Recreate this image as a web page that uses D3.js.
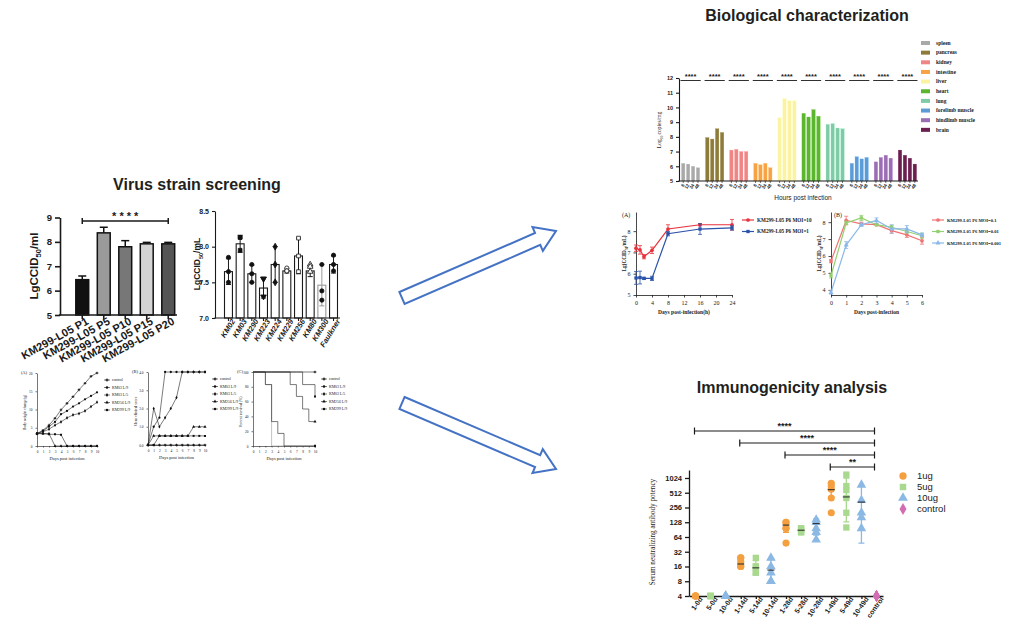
<!DOCTYPE html>
<html>
<head>
<meta charset="utf-8">
<script src="https://cdn.jsdelivr.net/npm/d3@7"></script>
<style>
  body { margin: 0; background: #fff; }
</style>
</head>
<body>
<svg id="fig" width="1009" height="643"></svg>
<script>
// ---------- data ----------
// virus strain screening: passages
const passages = ['KM299-L05 P1', 'KM299-L05 P5', 'KM299-L05 P10', 'KM299-L05 P15', 'KM299-L05 P20'];
const passageTiter = [6.45, 8.37, 7.8, 7.92, 7.92];
const passageErr = [0.15, 0.23, 0.25, 0.06, 0.06];
const passageFill = ['#111', '#9a9a9a', '#777', '#d4d4d4', '#555'];

// virus strain screening: strains
const strains = ['KM02', 'KM03', 'KM290', 'KM223', 'KM224', 'KM229', 'KM256', 'KM80', 'KM300', 'Faulkner'];
const strainMean = [7.65, 8.04, 7.62, 7.42, 7.75, 7.66, 7.87, 7.66, 7.46, 7.75];
const strainSd = [0.18, 0.12, 0.12, 0.14, 0.25, 0.03, 0.25, 0.08, 0.29, 0.12];
const strainPoints = [
  [7.85, 7.65, 7.5], [8.13, 8.13, 7.95], [7.75, 7.62, 7.5], [7.55, 7.55, 7.3], [8.0, 7.75, 7.5],
  [7.7, 7.66, 7.66], [8.12, 7.87, 7.65], [7.75, 7.72, 7.65], [7.75, 7.38, 7.25], [7.88, 7.75, 7.66]
];

// infection in mice
const days = [0, 1, 2, 3, 4, 5, 6, 7, 8, 9, 10];
const mouseGroups = ['control', 'KM03 L/9', 'KM03 L/5', 'KM256 L/9', 'KM299 L/9'];
const bodyWeight = [
  [3.4, 4.3, 5.7, 7.6, 9.9, 11.7, 13.5, 15.4, 17.2, 19.1, 20.0],
  [3.4, 4.1, 5.3, 6.6, 8.7, 9.6, 10.8, 11.7, 12.8, 13.7, 14.7],
  [3.4, 3.9, 4.6, 5.7, 6.6, 7.7, 8.5, 8.9, 9.6, 10.8, 12.0],
  [3.4, 3.4, 3.4, 0, 0, 0, 0, 0, 0, 0, 0],
  [3.4, 3.4, 3.2, 3.2, 3.1, 0, 0, 0, 0, 0, 0]
];
const clinicalScore = [
  [0, 0, 0, 0, 0, 0, 0, 0, 0, 0, 0],
  [0, 1, 1.5, 4, 4, 4, 4, 4, 4, 4, 4],
  [0, 2, 1, 1.5, 2, 2.6, 4, 4, 4, 4, 4],
  [0, 0.5, 0.5, 0.5, 0.5, 0.5, 0.5, 0.5, 1, 1, 1],
  [0, 0, 0.5, 0.5, 0.5, 0.5, 0.5, 0.5, 0.5, 0.5, 0.5]
];
const survival = [
  [100, 100, 100, 100, 100, 100, 100, 100, 100, 100, 100],
  [100, 100, 83, 0, 0, 0, 0, 0, 0, 0, 0],
  [100, 100, 83, 33, 17, 0, 0, 0, 0, 0, 0],
  [100, 100, 100, 100, 100, 100, 83, 67, 50, 33, 33],
  [100, 100, 100, 100, 100, 100, 100, 100, 83, 83, 67]
];

// biological characterization
const organs = ['spleen', 'pancreas', 'kidney', 'intestine', 'liver', 'heart', 'lung', 'forelimb muscle', 'hindlimb muscle', 'brain'];
const organColor = ['#a9a9a9', '#8d7b3c', '#f08585', '#f7a245', '#fbf3a2', '#5bb52f', '#80cba7', '#5d9bd6', '#9b6db3', '#6a1f4f'];
const hours = ['6', '12', '24', '48'];
const organLoad = [
  [6.2, 6.15, 6.0, 5.9],
  [7.95, 7.85, 8.55, 8.3],
  [7.1, 7.15, 7.0, 7.0],
  [6.2, 6.1, 6.2, 5.9],
  [9.3, 10.6, 10.45, 10.45],
  [9.6, 9.35, 9.85, 9.4],
  [8.85, 8.9, 8.6, 8.55],
  [6.2, 6.65, 6.5, 6.6],
  [6.3, 6.6, 6.75, 6.55],
  [7.1, 6.75, 6.55, 6.15]
];

// growth curves
const hoursA = [0, 1, 2, 4, 8, 16, 24];
const curveA = [
  { name: 'KM299-L05 P6 MOI=10', color: '#e8323c', sym: 'circle', v: [7.2, 7.12, 6.8, 7.1, 8.1, 8.3, 8.3], e: [0.15, 0.2, 0.1, 0.15, 0.2, 0.05, 0.25] },
  { name: 'KM299-L05 P6 MOI=1', color: '#2a52a8', sym: 'square', v: [5.8, 5.82, 5.78, 5.78, 7.88, 8.1, 8.15], e: [0.3, 0.3, 0.05, 0.1, 0.1, 0.25, 0.1] }
];
const daysB = [0, 1, 2, 3, 4, 5, 6];
const curveB = [
  { name: 'KM299-L05 P6 MOI=0.1', color: '#f07272', sym: 'circle', v: [5.7, 8.1, 7.9, 7.85, 7.5, 7.25, 6.9], e: [0.1, 0.25, 0.1, 0.05, 0.15, 0.15, 0.2] },
  { name: 'KM299-L05 P6 MOI=0.01', color: '#92d070', sym: 'square', v: [4.85, 7.95, 8.25, 7.85, 7.7, 7.45, 7.2], e: [0.15, 0.1, 0.15, 0.05, 0.1, 0.1, 0.15] },
  { name: 'KM299-L05 P6 MOI=0.001', color: '#8ab8e8', sym: 'triangle', v: [3.85, 6.65, 7.85, 8.1, 7.6, 7.6, 7.25], e: [0.1, 0.2, 0.1, 0.15, 0.25, 0.2, 0.1] }
];

// immunogenicity
const immGroups = ['1-0d', '5-0d', '10-0d', '1-14d', '5-14d', '10-14d', '1-28d', '5-28d', '10-28d', '1-49d', '5-49d', '10-49d', 'control'];
const immDose = ['1ug', '5ug', '10ug', '1ug', '5ug', '10ug', '1ug', '5ug', '10ug', '1ug', '5ug', '10ug', 'control'];
const immPoints = [
  [4, 4, 4, 4, 4], [4, 4, 4, 4, 4], [4, 4, 4, 4, 4],
  [24, 20, 16, 16, 24], [24, 16, 12, 12, 16], [24, 16, 12, 8, 8],
  [128, 96, 48, 128, 96], [96, 80, 96, 80, 88], [144, 96, 56, 128, 80],
  [800, 700, 600, 400, 200], [1200, 700, 580, 400, 200, 100], [740, 360, 200, 160, 96],
  [4, 4, 4, 4, 4]
];
const immMean = [4, 4, 4, 18, 15, 13.5, 112, 88, 120, 590, 420, 330, 4];
const immLow = [4, 4, 4, 16, 11, 8, 80, 80, 70, 420, 130, 48, 4];
const immHigh = [4, 4, 4, 22, 21, 22, 128, 96, 150, 850, 1024, 700, 4];
const doses = ['1ug', '5ug', '10ug', 'control'];
const doseColor = ['#f5a040', '#a9d88f', '#8bb9e3', '#d36db3'];
const doseSym = ['circle', 'square', 'triangle', 'diamond'];
const immSig = [
  { from: '1-0d', stars: '****' },
  { from: '1-14d', stars: '****' },
  { from: '1-28d', stars: '****' },
  { from: '1-49d', stars: '**' }
];

// ---------- helpers ----------
const SANS = '"Liberation Sans", Arial, sans-serif';
const SERIF = '"Liberation Serif", "Times New Roman", serif';
const svg = d3.select('#fig');
svg.append('rect').attr('width', 1009).attr('height', 643).attr('fill', '#fff');

const symType = {
  circle: d3.symbolCircle, square: d3.symbolSquare, triangle: d3.symbolTriangle,
  diamond: d3.symbolDiamond, cross: d3.symbolCross, down: d3.symbolTriangle
};

function txt(g, x, y, s, o = {}) {
  const t = g.append('text').attr('x', x).attr('y', y).text(s)
    .attr('font-family', o.family || SANS).attr('font-size', o.size || 8)
    .attr('font-weight', o.weight || 'normal').attr('fill', o.fill || '#1a1a1a')
    .attr('text-anchor', o.anchor || 'start');
  if (o.rotate != null) t.attr('transform', `rotate(${o.rotate},${x},${y})`);
  if (o.style) t.attr('font-style', o.style);
  return t;
}

// rotated label with subscript, e.g. LgCCID + 50 + /ml
function subLabel(g, x, y, parts, o) {
  const t = g.append('text').attr('transform', `translate(${x},${y}) rotate(-90)`)
    .attr('text-anchor', 'middle').attr('font-family', o.family || SANS)
    .attr('font-size', o.size).attr('font-weight', o.weight || 'normal').attr('fill', '#1a1a1a');
  t.append('tspan').text(parts[0]);
  t.append('tspan').text(parts[1]).attr('font-size', o.size * 0.65).attr('dy', o.size * 0.3);
  t.append('tspan').text(parts[2]).attr('dy', -o.size * 0.3);
}

function styleAxis(a, o) {
  a.selectAll('path, line').attr('stroke', '#1a1a1a').attr('stroke-width', o.sw || 1);
  a.selectAll('text').attr('font-family', o.family || SANS).attr('font-size', o.size)
    .attr('font-weight', o.weight || 'normal').attr('fill', '#1a1a1a');
}

function title(s, x, y) {
  txt(svg, x, y, s, { size: 16, weight: 'bold', anchor: 'middle', fill: '#231f20' });
}

// ---------- titles ----------
title('Virus strain screening', 197, 190);
title('Biological characterization', 807, 21);
title('Immunogenicity analysis', 792, 393);

// ---------- panel: passages ----------
{
  const g = svg.append('g');
  const x = d3.scaleBand().domain(passages).range([68.5, 182]).paddingInner(0.4).paddingOuter(0.34);
  const y = d3.scaleLinear().domain([5, 9]).range([315, 217.5]);
  passages.forEach((d, i) => {
    const cx = x(d) + x.bandwidth() / 2;
    const top = y(passageTiter[i] + passageErr[i]);
    g.append('line').attr('x1', cx).attr('x2', cx).attr('y1', y(passageTiter[i])).attr('y2', top)
      .attr('stroke', '#111').attr('stroke-width', 1.5);
    g.append('line').attr('x1', cx - 4).attr('x2', cx + 4).attr('y1', top).attr('y2', top)
      .attr('stroke', '#111').attr('stroke-width', 1.5);
  });
  g.selectAll('rect.bar').data(passages).join('rect').attr('class', 'bar')
    .attr('x', d => x(d)).attr('width', x.bandwidth())
    .attr('y', (d, i) => y(passageTiter[i])).attr('height', (d, i) => y(5) - y(passageTiter[i]))
    .attr('fill', (d, i) => passageFill[i]).attr('stroke', '#111').attr('stroke-width', 1.5);

  const ya = g.append('g').attr('transform', 'translate(60,0)')
    .call(d3.axisLeft(y).ticks(4).tickSize(5).tickSizeOuter(0));
  styleAxis(ya, { size: 9.5, weight: 'bold', sw: 1.6 });
  const xa = g.append('g').attr('transform', 'translate(0,315)')
    .call(d3.axisBottom(x).tickSize(4).tickSizeOuter(0));
  xa.select('.domain').remove();
  styleAxis(xa, { size: 11, weight: 'bold', sw: 1.6 });
  xa.selectAll('text').attr('text-anchor', 'end').attr('y', 7).attr('x', 2).attr('dy', '0.35em')
    .attr('transform', 'rotate(-29)');
  g.append('line').attr('x1', 59).attr('x2', 177).attr('y1', 315).attr('y2', 315)
    .attr('stroke', '#1a1a1a').attr('stroke-width', 1.6);
  subLabel(g, 38, 266, ['LgCCID', '50', '/ml'], { size: 11.5, weight: 'bold' });

  // significance
  const x1 = x(passages[0]) + x.bandwidth() / 2, x2 = x(passages[4]) + x.bandwidth() / 2;
  g.append('path').attr('d', `M${x1},218V224M${x1},221H${x2}M${x2},218V224`)
    .attr('stroke', '#1a1a1a').attr('stroke-width', 1.5).attr('fill', 'none');
  txt(g, (x1 + x2) / 2, 220, '* * * *', { size: 11, weight: 'bold', anchor: 'middle' });
}

// ---------- panel: strains ----------
{
  const g = svg.append('g');
  const x = d3.scaleBand().domain(strains).range([221, 341]).paddingInner(0.32).paddingOuter(0.3);
  const y = d3.scaleLinear().domain([7, 8.5]).range([318, 211]);
  const shapes = ['circle', 'square', 'circle', 'down', 'diamond', 'circle', 'square', 'triangle', 'circle', 'circle'];
  const hollow = [false, false, false, false, false, true, true, true, false, false];
  strains.forEach((d, i) => {
    const cx = x(d) + x.bandwidth() / 2;
    const col = d === 'KM300' ? '#9a9a9a' : '#1a1a1a';
    g.append('rect').attr('x', x(d)).attr('width', x.bandwidth())
      .attr('y', y(strainMean[i])).attr('height', y(7) - y(strainMean[i]))
      .attr('fill', '#fff').attr('stroke', col).attr('stroke-width', 1.1);
    const lo = y(strainMean[i] - strainSd[i]), hi = y(strainMean[i] + strainSd[i]);
    g.append('path').attr('d', `M${cx},${lo}V${hi}M${cx - 2.5},${hi}H${cx + 2.5}M${cx - 2.5},${lo}H${cx + 2.5}`)
      .attr('stroke', col).attr('stroke-width', 1).attr('fill', 'none');
    strainPoints[i].forEach(v => {
      const rot = shapes[i] === 'down' ? ' rotate(180)' : '';
      g.append('path').attr('d', d3.symbol(symType[shapes[i]], 14)())
        .attr('transform', `translate(${cx},${y(v)})${rot}`)
        .attr('fill', hollow[i] ? '#fff' : '#111').attr('stroke', '#111').attr('stroke-width', 0.8);
    });
  });
  const ya = g.append('g').attr('transform', 'translate(215,0)')
    .call(d3.axisLeft(y).tickValues([7, 7.5, 8, 8.5]).tickFormat(d3.format('.1f')).tickSize(3).tickSizeOuter(0));
  styleAxis(ya, { size: 7, weight: 'bold', sw: 1.1 });
  const xa = g.append('g').attr('transform', 'translate(0,318)')
    .call(d3.axisBottom(x).tickSize(3).tickSizeOuter(0));
  xa.select('.domain').remove();
  styleAxis(xa, { size: 7.5, weight: 'bold', sw: 1.1 });
  xa.selectAll('text').attr('text-anchor', 'end').attr('y', 5).attr('x', 1).attr('dy', '0.35em')
    .attr('font-style', 'italic').attr('transform', 'rotate(-58)');
  g.append('line').attr('x1', 214.5).attr('x2', 340).attr('y1', 318).attr('y2', 318)
    .attr('stroke', '#1a1a1a').attr('stroke-width', 1.1);
  subLabel(g, 200, 264, ['LgCCID', '50', '/mL'], { size: 8.5, weight: 'bold' });
}

// ---------- panels: infection in mice ----------
function miniChart(cfg) {
  const g = svg.append('g');
  const x = d3.scaleLinear().domain([0, 10]).range([cfg.l, cfg.r]);
  const y = d3.scaleLinear().domain(cfg.yDom).range([cfg.b, cfg.t]);
  const ya = g.append('g').attr('transform', `translate(${cfg.l},0)`)
    .call(d3.axisLeft(y).tickValues(cfg.yTicks).tickSize(1.5).tickSizeOuter(0));
  styleAxis(ya, { size: 3.5, family: SERIF, sw: 0.6 });
  const xa = g.append('g').attr('transform', `translate(0,${cfg.b})`)
    .call(d3.axisBottom(x).tickValues(days).tickSize(1.5).tickSizeOuter(0));
  styleAxis(xa, { size: 3.5, family: SERIF, sw: 0.6 });
  txt(g, (cfg.l + cfg.r) / 2, cfg.b + 14, 'Days post infection', { size: 4.5, family: SERIF, anchor: 'middle' });
  txt(g, cfg.l - 13, cfg.t + 1, cfg.tag, { size: 4.5, family: SERIF, anchor: 'middle' });
  txt(g, cfg.l - 11, (cfg.t + cfg.b) / 2 + 3, cfg.ylab, { size: 3.8, family: SERIF, anchor: 'middle', rotate: -90 });
  const line = cfg.step ? d3.line().curve(d3.curveStepAfter) : d3.line();
  const syms = ['cross', 'circle', 'diamond', 'triangle', 'square'];
  cfg.series.forEach((vals, k) => {
    const pts = vals.map((v, i) => [x(days[i]), y(v)]);
    g.append('path').attr('d', line(pts)).attr('fill', 'none')
      .attr('stroke', cfg.step && k === 1 ? '#999' : '#222').attr('stroke-width', 0.6);
    const mk = cfg.step ? [pts[pts.length - 1]] : pts;
    mk.forEach(p => g.append('path').attr('d', d3.symbol(symType[syms[k]], 4)())
      .attr('transform', `translate(${p[0]},${p[1]})`).attr('fill', '#111'));
  });
  mouseGroups.forEach((name, k) => {
    const ly = cfg.t + 7 + k * 7.5;
    g.append('line').attr('x1', cfg.legX - 3).attr('x2', cfg.legX + 3).attr('y1', ly).attr('y2', ly)
      .attr('stroke', '#222').attr('stroke-width', 0.6);
    g.append('path').attr('d', d3.symbol(symType[syms[k]], 5)()).attr('transform', `translate(${cfg.legX},${ly})`).attr('fill', '#111');
    txt(g, cfg.legX + 5, ly + 1.3, name, { size: 3.8, family: SERIF });
  });
}
miniChart({ l: 37, r: 97, t: 373, b: 446, yDom: [0, 20], yTicks: [0, 5, 10, 15, 20], series: bodyWeight,
  tag: '(A)', ylab: 'Body weight change(g)', legX: 107 });
miniChart({ l: 148, r: 205, t: 372, b: 445, yDom: [0, 4], yTicks: [0, 1, 2, 3, 4], series: clinicalScore,
  tag: '(B)', ylab: 'Mean clinical score', legX: 215 });
miniChart({ l: 253, r: 315, t: 372, b: 446, yDom: [0, 100], yTicks: [0, 20, 40, 60, 80, 100], series: survival,
  tag: '(C)', ylab: 'Percent survival (%)', legX: 324, step: true });

// ---------- panel: biological characterization ----------
{
  const g = svg.append('g');
  const x0 = d3.scaleBand().domain(organs).range([680, 918]).paddingInner(0.12);
  const x1 = d3.scaleBand().domain(hours).range([0, x0.bandwidth()]).padding(0.3);
  const y = d3.scaleLinear().domain([5, 12]).range([181, 78]);
  organs.forEach((o, i) => {
    const gg = g.append('g').attr('transform', `translate(${x0(o)},0)`);
    gg.selectAll('rect').data(organLoad[i]).join('rect')
      .attr('x', (d, j) => x1(hours[j])).attr('width', x1.bandwidth())
      .attr('y', d => y(d)).attr('height', d => y(5) - y(d))
      .attr('fill', organColor[i]).attr('stroke', d3.color(organColor[i]).brighter(0.4)).attr('stroke-width', 0.3);
    hours.forEach(h => {
      const cx = x1(h) + x1.bandwidth() / 2;
      gg.append('line').attr('x1', cx).attr('x2', cx).attr('y1', 181).attr('y2', 183)
        .attr('stroke', '#1a1a1a').attr('stroke-width', 0.6);
      txt(gg, cx + 1.5, 185, h, { size: 4.5, weight: 'bold', anchor: 'end', rotate: -60 });
    });
    gg.append('line').attr('x1', 0.5).attr('x2', x0.bandwidth() - 0.5).attr('y1', 80.5).attr('y2', 80.5)
      .attr('stroke', '#1a1a1a').attr('stroke-width', 0.9);
    txt(gg, x0.bandwidth() / 2, 79, '****', { size: 7.5, weight: 'bold', anchor: 'middle' });
  });
  const ya = g.append('g').attr('transform', 'translate(679,0)')
    .call(d3.axisLeft(y).ticks(7).tickSize(3).tickSizeOuter(0));
  styleAxis(ya, { size: 5.5, weight: 'bold', sw: 1.1 });
  g.append('line').attr('x1', 678.5).attr('x2', 918).attr('y1', 181).attr('y2', 181)
    .attr('stroke', '#1a1a1a').attr('stroke-width', 1.1);
  txt(g, 803, 200, 'Hours post infection', { size: 6.5, anchor: 'middle' });
  subLabel(g, 661, 130, ['Log', '10', ' copies/mg'], { size: 5.5, family: SERIF });
  organs.forEach((o, i) => {
    const ly = 43 + i * 9.65;
    g.append('rect').attr('x', 921).attr('y', ly - 2).attr('width', 9).attr('height', 4).attr('fill', organColor[i]);
    txt(g, 936, ly + 1.8, o, { size: 5.5, family: SERIF, weight: 'bold' });
  });
}

// ---------- growth curves ----------
function growth(cfg) {
  const g = svg.append('g');
  const x = d3.scaleLinear().domain(cfg.xDom).range([cfg.l, cfg.r]);
  const y = d3.scaleLinear().domain(cfg.yDom).range([cfg.b, cfg.t]);
  const ya = g.append('g').attr('transform', `translate(${cfg.l},0)`)
    .call(d3.axisLeft(y).tickValues(cfg.yTicks).tickFormat(d3.format('d')).tickSize(2.5).tickSizeOuter(0));
  styleAxis(ya, { size: 6, family: SERIF, sw: 0.8 });
  const xa = g.append('g').attr('transform', `translate(0,${cfg.b})`)
    .call(d3.axisBottom(x).tickValues(cfg.xTicks).tickFormat(d3.format('d')).tickSize(2.5).tickSizeOuter(0));
  styleAxis(xa, { size: 6, family: SERIF, sw: 0.8 });
  txt(g, (cfg.l + cfg.r) / 2, cfg.b + 19, cfg.xlab, { size: 5.5, family: SERIF, weight: 'bold', anchor: 'middle' });
  txt(g, cfg.tagX, 217, cfg.tag, { size: 6, family: SERIF });
  subLabel(g, cfg.l - 10, (cfg.t + cfg.b) / 2, ['Lg(CCID', '50', '/mL)'], { size: 5.3, family: SERIF, weight: 'bold' });
  cfg.series.forEach((s, k) => {
    const pts = s.v.map((v, i) => [x(cfg.xs[i]), y(v)]);
    s.v.forEach((v, i) => {
      const cx = x(cfg.xs[i]), lo = y(v - s.e[i]), hi = y(v + s.e[i]);
      g.append('path').attr('d', `M${cx},${lo}V${hi}M${cx - 2},${hi}H${cx + 2}M${cx - 2},${lo}H${cx + 2}`)
        .attr('stroke', s.color).attr('stroke-width', 0.8).attr('fill', 'none');
    });
    g.append('path').attr('d', d3.line()(pts)).attr('fill', 'none').attr('stroke', s.color).attr('stroke-width', 1.2);
    pts.forEach(p => g.append('path').attr('d', d3.symbol(symType[s.sym], 11)())
      .attr('transform', `translate(${p[0]},${p[1]})`).attr('fill', s.color));
    const ly = 220 + k * 11.5;
    g.append('line').attr('x1', cfg.legX - 6).attr('x2', cfg.legX + 6).attr('y1', ly).attr('y2', ly)
      .attr('stroke', s.color).attr('stroke-width', 1.2);
    g.append('path').attr('d', d3.symbol(symType[s.sym], 11)()).attr('transform', `translate(${cfg.legX},${ly})`).attr('fill', s.color);
    txt(g, cfg.legX + 9, ly + 1.8, s.name, { size: cfg.legSize, family: SERIF, weight: 'bold' });
  });
}
growth({ l: 636, r: 732, t: 212, b: 295, xDom: [0, 24], xTicks: [0, 4, 8, 12, 16, 20, 24], xs: hoursA,
  yDom: [5, 8.9], yTicks: [5, 6, 7, 8], series: curveA, tag: '(A)', tagX: 622,
  xlab: 'Days post-infection(h)', legX: 748, legSize: 5.2 });
growth({ l: 831, r: 922, t: 212, b: 295, xDom: [0, 6], xTicks: daysB, xs: daysB,
  yDom: [3.7, 8.6], yTicks: [4, 5, 6, 7, 8], series: curveB, tag: '(B)', tagX: 834,
  xlab: 'Days post-infection', legX: 938, legSize: 4.6 });

// ---------- immunogenicity ----------
{
  const g = svg.append('g');
  const x = d3.scalePoint().domain(immGroups).range([689, 883]).padding(0.43);
  const y = d3.scaleLog().base(2).domain([4, 1490]).range([596, 470]);
  const ticks = [4, 8, 16, 32, 64, 128, 256, 512, 1024];
  const ya = g.append('g').attr('transform', 'translate(689,0)')
    .call(d3.axisLeft(y).tickValues(ticks).tickFormat(d3.format('d')).tickSize(4).tickSizeOuter(0));
  styleAxis(ya, { size: 7.5, weight: 'bold', sw: 1.3 });
  const xa = g.append('g').attr('transform', 'translate(0,596)')
    .call(d3.axisBottom(x).tickSize(3).tickSizeOuter(0));
  styleAxis(xa, { size: 7, weight: 'bold', sw: 1.3 });
  xa.selectAll('text').attr('text-anchor', 'end').attr('y', 5).attr('x', 1.5).attr('dy', '0.35em')
    .attr('transform', 'rotate(-55)');
  txt(g, 655, 532, 'Serum neutralizing antibody potency', { size: 7.2, family: SERIF, anchor: 'middle', rotate: -90 });

  immGroups.forEach((d, i) => {
    const k = doses.indexOf(immDose[i]);
    const col = doseColor[k], cx = x(d);
    if (immHigh[i] > immLow[i]) {
      g.append('path').attr('d', `M${cx},${y(immLow[i])}V${y(immHigh[i])}M${cx - 3},${y(immHigh[i])}H${cx + 3}M${cx - 3},${y(immLow[i])}H${cx + 3}`)
        .attr('stroke', col).attr('stroke-width', 1.3).attr('fill', 'none');
    }
    immPoints[i].forEach(v => {
      g.append('path').attr('d', d3.symbol(symType[doseSym[k]], 40)())
        .attr('transform', `translate(${cx},${y(v)})`).attr('fill', col);
    });
    if (immHigh[i] > immLow[i]) {
      g.append('line').attr('x1', cx - 3.5).attr('x2', cx + 3.5).attr('y1', y(immMean[i])).attr('y2', y(immMean[i]))
        .attr('stroke', '#222').attr('stroke-width', 1);
    }
  });

  immSig.forEach((s, k) => {
    const ly = 431 + k * 12, x1 = x(s.from) - 1, x2 = x('control') - 2;
    g.append('path').attr('d', `M${x1},${ly - 3.5}V${ly + 3.5}M${x1},${ly}H${x2}M${x2},${ly - 3.5}V${ly + 3.5}`)
      .attr('stroke', '#1a1a1a').attr('stroke-width', 1.2).attr('fill', 'none');
    txt(g, (x1 + x2) / 2, ly - 2.5, s.stars, { size: 9, weight: 'bold', anchor: 'middle' });
  });

  doses.forEach((d, k) => {
    const ly = 476 + k * 11;
    g.append('path').attr('d', d3.symbol(symType[doseSym[k]], 42)()).attr('transform', `translate(903,${ly})`).attr('fill', doseColor[k]);
    txt(g, 917, ly + 3.3, d, { size: 9.5 });
  });
}

// ---------- arrows ----------
function arrow(x0, y0, x1, y1) {
  const L = Math.hypot(x1 - x0, y1 - y0), a = Math.atan2(y1 - y0, x1 - x0) * 180 / Math.PI;
  const sw = 6.5, hw = 13, hl = 20;
  const pts = [[0, -sw], [L - hl, -sw], [L - hl, -hw], [L, 0], [L - hl, hw], [L - hl, sw], [0, sw]];
  svg.append('polygon').attr('points', pts.map(p => p.join(',')).join(' '))
    .attr('transform', `translate(${x0},${y0}) rotate(${a})`)
    .attr('fill', '#fff').attr('stroke', '#4472c4').attr('stroke-width', 2);
}
arrow(402, 298, 556, 231);
arrow(402, 403, 556, 469);
</script>
</body>
</html>
